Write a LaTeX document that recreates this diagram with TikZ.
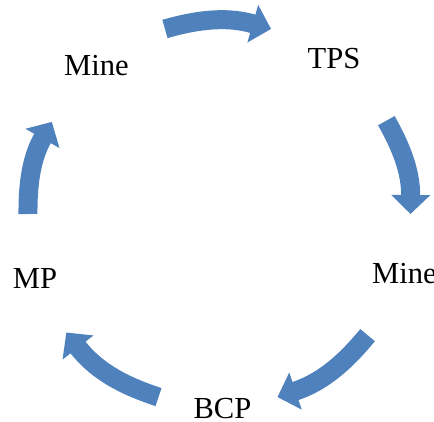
\documentclass[tikz,border=0pt]{standalone}
\usepackage{fontspec}
\setmainfont{Liberation Serif}
\usetikzlibrary{arrows.meta}
\definecolor{cycleblue}{RGB}{79,129,189}
\begin{document}
\begin{tikzpicture}
    \tikzstyle{etape}=[font=\fontsize{17.4}{20}\selectfont,inner sep=0pt,anchor=base]
    \tikzstyle{fleche}=[draw=cycleblue,line width=0.38cm,-{Triangle[length=0.38cm,width=0.76cm]}]
    \useasboundingbox (-4.36,-4.14) rectangle (4.32,4.28);
    \node[etape] (1) at (-2.43,2.78) {Mine};
    \node[etape] (2) at (2.32,2.92) {TPS};
    \node[etape] (3) at (3.73,-1.38) {Mine};
    \node[etape] (4) at (0.09,-4.08) {BCP};
    \node[etape] (5) at (-3.66,-1.48) {MP};
    \coordinate (1a) at (106:3.85);
    \coordinate (1b) at (74:3.85);
    \coordinate (2a) at (29:3.85);
    \coordinate (2b) at (0:3.85);
    \coordinate (3a) at (-39:3.85);
    \coordinate (3b) at (-72:3.85);
    \coordinate (4a) at (-108:3.85);
    \coordinate (4b) at (-142:3.85);
    \coordinate (5a) at (180:3.8);
    \coordinate (5b) at (151:3.8);
    \draw[fleche] (1a) to[bend left=16] (1b);
    \draw[fleche] (2a) to[bend left=15] (2b);
    \draw[fleche] (3a) to[bend left=16] (3b);
    \draw[fleche] (4a) to[bend left=17] (4b);
    \draw[fleche] (5a) to[bend left=15] (5b);
\end{tikzpicture}
\end{document}
